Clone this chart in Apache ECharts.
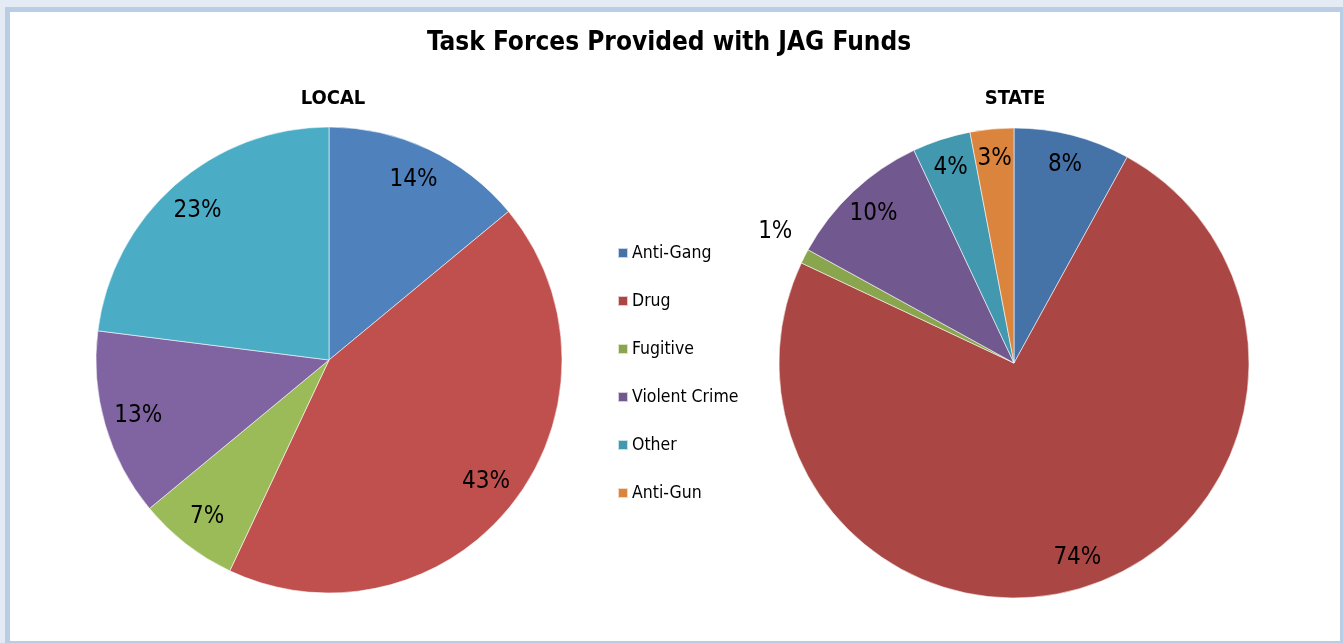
<!DOCTYPE html>
<html>
<head>
<meta charset="utf-8">
<script src="https://cdn.jsdelivr.net/npm/echarts@6/dist/echarts.min.js"></script>
<style>
  html, body { margin: 0; padding: 0; width: 1343px; height: 643px; overflow: hidden; background: #e4ebf5; }
  #frame { position: absolute; left: 5px; top: 7px; width: 1340px; height: 639px; box-sizing: border-box; border: 5px solid #b9cde5; background: #fff; }
  #chart { position: absolute; left: 0; top: 0; width: 1343px; height: 643px; }
</style>
</head>
<body>
<div id="frame"></div>
<div id="chart"></div>
<script>
// ---- data ----
const categories = ['Anti-Gang', 'Drug', 'Fugitive', 'Violent Crime', 'Other', 'Anti-Gun'];
const localValues = [14, 43, 7, 13, 23, 0];
const stateValues = [8, 74, 1, 10, 4, 3];
const chartTitle = 'Task Forces Provided with JAG Funds';
const localTitle = 'LOCAL';
const stateTitle = 'STATE';

// ---- styles ----
const localColors = ['#4f81bd', '#c0504d', '#9bbb59', '#8064a2', '#4bacc6', '#f79646'];
const stateColors = ['#4572a7', '#aa4643', '#89a54e', '#71588f', '#4198af', '#db843d'];
const FONT = '"DejaVu Sans Condensed", "Liberation Sans Narrow", sans-serif';

function buildData(values, colors) {
  const out = [];
  values.forEach((v, i) => {
    if (v > 0) out.push({ name: categories[i], value: v, itemStyle: { color: colors[i] } });
  });
  return out;
}

const localData = buildData(localValues, localColors);
const stateData = buildData(stateValues, stateColors);

function labelData(data, special) {
  return data.map(d => {
    const o = { name: d.name, value: d.value };
    if (special && special[d.name]) o.label = special[d.name];
    return o;
  });
}

const labelStyle = {
  show: true, position: 'inside', formatter: '{d}%',
  fontFamily: FONT, fontSize: 24, color: '#000'
};

const localCenter = [329, 360], localR = 233;
const stateCenter = [1014, 363], stateR = 235;

const chart = echarts.init(document.getElementById('chart'), null, { renderer: 'canvas' });
chart.setOption({
  backgroundColor: 'transparent',
  animation: false,
  title: [
    { text: chartTitle, left: 669, top: 30, textAlign: 'center', padding: 0,
      textStyle: { fontFamily: FONT, fontWeight: 'bold', fontSize: 26, lineHeight: 26, color: '#000' } },
    { text: localTitle, left: 333, top: 89, textAlign: 'center', padding: 0,
      textStyle: { fontFamily: FONT, fontWeight: 'bold', fontSize: 20, lineHeight: 20, color: '#000' } },
    { text: stateTitle, left: 1015, top: 89, textAlign: 'center', padding: 0,
      textStyle: { fontFamily: FONT, fontWeight: 'bold', fontSize: 20, lineHeight: 20, color: '#000' } }
  ],
  legend: {
    orient: 'vertical', left: 617, top: 244, padding: 0,
    itemWidth: 10, itemHeight: 10, itemGap: 30, icon: 'rect',
    textStyle: { fontFamily: FONT, fontSize: 17.5, lineHeight: 18, color: '#000', padding: [0, 0, 0, -1] },
    data: categories.map((c, i) => ({ name: c, itemStyle: { color: stateColors[i] } })),
    selectedMode: false
  },
  series: [
    { type: 'pie', name: 'local', center: localCenter, radius: [0, localR], startAngle: 90, clockwise: true,
      silent: true, label: { show: false }, labelLine: { show: false },
      itemStyle: { borderColor: 'rgba(255,255,255,0.7)', borderWidth: 0.8 },
      data: localData },
    { type: 'pie', name: 'state', center: stateCenter, radius: [0, stateR], startAngle: 90, clockwise: true,
      silent: true, label: { show: false }, labelLine: { show: false },
      itemStyle: { borderColor: 'rgba(255,255,255,0.7)', borderWidth: 0.8 },
      data: stateData },
    { type: 'pie', name: 'localLabels', center: localCenter, radius: [localR * 0.68, localR], startAngle: 90, clockwise: true,
      silent: true, label: labelStyle, labelLine: { show: false },
      itemStyle: { color: 'rgba(0,0,0,0)' },
      data: labelData(localData) },
    { type: 'pie', name: 'stateLabels', center: stateCenter, radius: [stateR * 0.72, stateR], startAngle: 90, clockwise: true,
      silent: true, label: labelStyle, labelLine: { show: false },
      itemStyle: { color: 'rgba(0,0,0,0)' },
      data: labelData(stateData, { 'Fugitive': { offset: [-56, -38] } }) }
  ]
});
</script>
</body>
</html>
